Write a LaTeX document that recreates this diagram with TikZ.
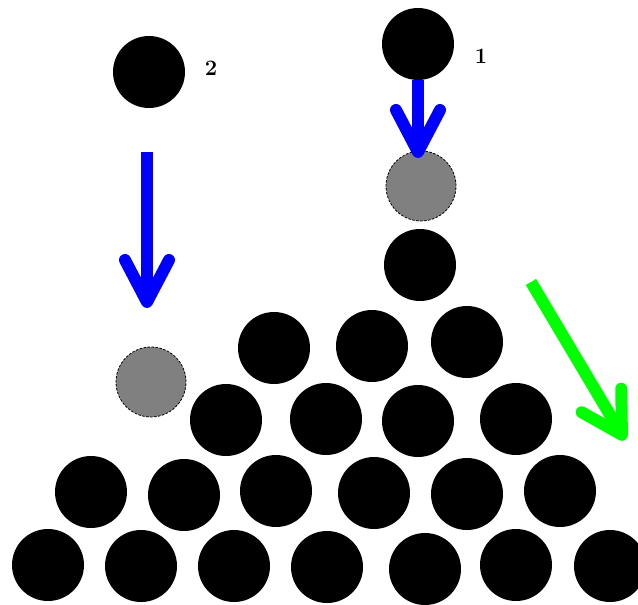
\documentclass[tikz,border=0pt]{standalone}
\usepackage{tikz}
\usetikzlibrary{arrows.meta}
\definecolor{Fall}{HTML}{0000FF}
\definecolor{Slide}{HTML}{00FF00}
\definecolor{Ghost}{HTML}{808080}
\tikzset{
ball/.style={circle, fill=black, minimum size=72pt, inner sep=0pt},
ghostball/.style={circle, fill=Ghost, draw=black, line width=0.8pt, dash pattern=on 2.5pt off 1.5pt, minimum size=70pt, inner sep=0pt},
balltag/.style={font=\fontsize{22}{26}\selectfont\bfseries, inner sep=0pt},
fallarrow/.style={draw=Fall, line width=12pt, -{Straight Barb[length=42pt, width=44pt, round]}},
slidearrow/.style={draw=Slide, line width=12pt, -{Straight Barb[length=40pt, width=46pt, round]}}
}
\begin{document}
\begin{tikzpicture}[x=1pt, y=-1pt]
  \useasboundingbox[fill=white] (0,0) rectangle (638,605);
  \clip (0,0) rectangle (638,605);
  % falling balls and where they land
  \node[ball] (drop2) at (149,72) {};
  \node[ball] (drop1) at (418,44) {};
  \node[balltag] (tag2) at (211,68) {2};
  \node[balltag] (tag1) at (481,56) {1};
  \node[ghostball] (land1) at (421,186) {};
  \node[ghostball] (land2) at (151,382) {};
  \coordinate (s2) at (147,152);
  \coordinate (t2) at (147,308);
  \coordinate (t1) at (418,158);
  \draw[fallarrow] (s2) -- (t2);
  \draw[fallarrow] (drop1.south) -- (t1);
  % pile
  \node[ball] (top) at (420,265) {};
  \node[ball] (p11) at (274,348) {};
  \node[ball] (p12) at (372,346) {};
  \node[ball] (p13) at (467,342) {};
  \node[ball] (p21) at (226,420) {};
  \node[ball] (p22) at (326,419) {};
  \node[ball] (p23) at (418,421) {};
  \node[ball] (p24) at (516,419) {};
  \node[ball] (p31) at (91,492) {};
  \node[ball] (p32) at (184,495) {};
  \node[ball] (p33) at (276,491) {};
  \node[ball] (p34) at (374,493) {};
  \node[ball] (p35) at (467,494) {};
  \node[ball] (p36) at (560,491) {};
  \node[ball] (p41) at (48,565) {};
  \node[ball] (p42) at (141,566) {};
  \node[ball] (p43) at (234,566) {};
  \node[ball] (p44) at (327,567) {};
  \node[ball] (p45) at (425,569) {};
  \node[ball] (p46) at (516,565) {};
  \node[ball] (p47) at (610,566) {};
  % sliding direction
  \coordinate (s3) at (531,282);
  \coordinate (t3) at (625,440);
  \draw[slidearrow] (s3) -- (t3);
\end{tikzpicture}
\end{document}
